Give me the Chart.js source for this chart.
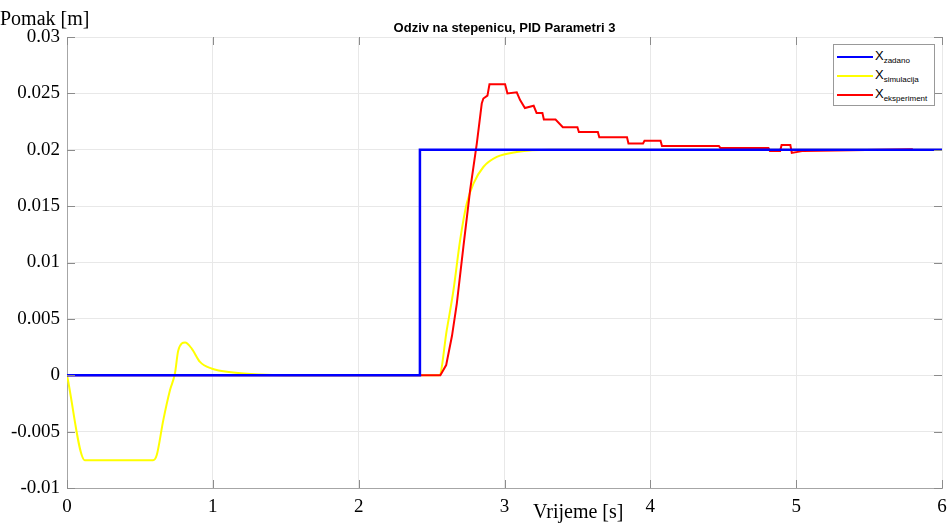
<!DOCTYPE html>
<html>
<head>
<meta charset="utf-8">
<script src="https://cdn.jsdelivr.net/npm/chart.js@4.4.0/dist/chart.umd.min.js"></script>
<style>
    body { margin: 0; background: #fff; }
    #wrap { position: relative; width: 951px; height: 523px; }
    #stepChart { position: absolute; left: 0; top: 0; }
    .lbl { position: absolute; font-family: "Liberation Serif", serif; font-size: 20px; color: #000; white-space: nowrap; }
    #title { position: absolute; left: 67px; width: 875px; top: 20px; text-align: center;
             font-family: "Liberation Sans", Arial, sans-serif; font-weight: bold; font-size: 13px; color: #000; }
    #legend { position: absolute; left: 833px; top: 44px; width: 100px; height: 60px; background: #fff;
              border: 1px solid #999; font-family: "Liberation Sans", Arial, sans-serif; font-size: 13px; }
    #legend .row { position: absolute; left: 3px; height: 14px; }
    #legend .ln { position: absolute; left: 0; top: 7px; width: 36px; height: 2px; }
    #legend .tx { position: absolute; left: 38px; top: 0; line-height: 14px; white-space: nowrap; }
    #legend sub { font-size: 8px; vertical-align: -3px; }
</style>
</head>
<body>
<div id="wrap">
    <canvas id="stepChart" width="951" height="523"></canvas>
    <div id="title">Odziv na stepenicu, PID Parametri 3</div>
    <div class="lbl" style="left:0px;top:7px;">Pomak [m]</div>
    <div class="lbl" style="left:533px;top:500px;">Vrijeme [s]</div>
    <div id="legend">
        <div class="row" style="top:4px"><div class="ln" style="background:#0000ff"></div><div class="tx">X<sub>zadano</sub></div></div>
        <div class="row" style="top:23px"><div class="ln" style="background:#ffff00"></div><div class="tx">X<sub>simulacija</sub></div></div>
        <div class="row" style="top:42px"><div class="ln" style="background:#ff0000"></div><div class="tx">X<sub>eksperiment</sub></div></div>
    </div>
</div>
<script>
// DATA

var xTicks = [0, 1, 2, 3, 4, 5, 6]
var yTicks = [-0.01, -0.005, 0, 0.005, 0.01, 0.015, 0.02, 0.025, 0.03]

// zadano (reference step)
var zadanoT = [0, 2.42, 2.42, 6]
var zadanoY = [0, 0, 0.02, 0.02]

// simulacija
var simT = [0, 0.123, 0.59, 0.615, 0.66, 0.706, 0.74, 0.763, 0.81, 0.855, 0.912, 0.99, 1.14, 1.32, 1.5,
    2.553, 2.604, 2.65, 2.696, 2.741, 2.787, 2.855, 2.947, 3.084, 3.31, 6]
var simY = [0, -0.00754, -0.00754, -0.0071, -0.004, -0.00133, 0.00015, 0.0022, 0.0029, 0.00237, 0.00118, 0.0006, 0.00024, 0.00006, 0,
    0, 0.004, 0.00754, 0.012, 0.01523, 0.017, 0.01847, 0.01936, 0.0198, 0.02, 0.02]

// eksperiment
var ekspT = [0, 2.56, 2.6, 2.64, 2.673, 2.718, 2.764, 2.81, 2.844, 2.855, 2.883, 2.897, 3.004, 3.02, 3.084, 3.107, 3.14,
    3.2, 3.22, 3.26, 3.27, 3.35, 3.4, 3.5, 3.51, 3.64, 3.65, 3.84, 3.85, 3.95, 3.96, 4.07, 4.08,
    4.47, 4.48, 4.81, 4.82, 4.89, 4.9, 4.96, 4.97, 5.05, 5.8]
var ekspY = [0, 0, 0.0009, 0.0035, 0.00636, 0.01138, 0.0164, 0.02055, 0.0241, 0.02454, 0.0248, 0.0258, 0.0258, 0.025, 0.0251, 0.0244, 0.0237,
    0.0239, 0.02326, 0.02326, 0.02268, 0.02268, 0.022, 0.022, 0.02158, 0.02158, 0.0211, 0.0211, 0.02055, 0.02055, 0.0208, 0.0208, 0.02034,
    0.02034, 0.02016, 0.02016, 0.0199, 0.0199, 0.02043, 0.02043, 0.01972, 0.0199, 0.02005]

var toPoints = function (t, y) {
    return t.map(function (v, i) { return { x: v, y: y[i] } })
}

// inner tick marks, matlab style
var innerTicks = {
    id: 'innerTicks',
    afterDraw: function (chart) {
        var ctx = chart.ctx
        var a = chart.chartArea
        var xs = chart.scales.x
        var ys = chart.scales.y
        ctx.save()
        ctx.strokeStyle = "#8c8c8c"
        ctx.lineWidth = 1
        ctx.beginPath()
        xTicks.forEach(function (v) {
            var px = Math.round(xs.getPixelForValue(v)) + 0.5
            ctx.moveTo(px, a.bottom); ctx.lineTo(px, a.bottom - 8)
            ctx.moveTo(px, a.top); ctx.lineTo(px, a.top + 8)
        })
        yTicks.forEach(function (v) {
            var py = Math.round(ys.getPixelForValue(v)) + 0.5
            ctx.moveTo(a.left, py); ctx.lineTo(a.left + 8, py)
            ctx.moveTo(a.right, py); ctx.lineTo(a.right - 8, py)
        })
        ctx.stroke()
        ctx.restore()
    }
}

// CHART

var tickFont = { family: "'Liberation Serif', serif", size: 19 }

var cnx = document.getElementById("stepChart")

var stepChart = new Chart(cnx, {
    type: 'line',
    data: {
        datasets: [
            {
                label: "X zadano",
                data: toPoints(zadanoT, zadanoY),
                borderColor: "#0000ff",
                borderWidth: 2.5,
                pointRadius: 0,
                order: 0
            },
            {
                label: "X simulacija",
                data: toPoints(simT, simY),
                borderColor: "#ffff00",
                borderWidth: 2,
                pointRadius: 0,
                cubicInterpolationMode: 'monotone',
                order: 2
            },
            {
                label: "X eksperiment",
                data: toPoints(ekspT, ekspY),
                borderColor: "#ff0000",
                borderWidth: 2,
                pointRadius: 0,
                order: 1
            }
        ]
    },
    plugins: [innerTicks],
    options: {
        responsive: false,
        animation: false,
        layout: { padding: { left: 0, right: 9, top: 37, bottom: 0 } },
        plugins: {
            legend: { display: false },
            title: { display: false },
            tooltip: { enabled: false }
        },
        scales: {
            x: {
                type: 'linear',
                min: 0,
                max: 6,
                afterBuildTicks: function (axis) {
                    axis.ticks = xTicks.map(function (v) { return { value: v } })
                },
                afterFit: function (axis) {
                    axis.height = 35
                    axis.paddingLeft = 0
                    axis.paddingRight = 0
                },
                grid: { color: "#e8e8e8", drawTicks: false },
                border: { color: "#a6a6a6", width: 1 },
                ticks: { color: "#000", font: tickFont, padding: 8, maxRotation: 0 }
            },
            y: {
                type: 'linear',
                min: -0.01,
                max: 0.03,
                afterBuildTicks: function (axis) {
                    axis.ticks = yTicks.map(function (v) { return { value: v } })
                },
                afterFit: function (axis) {
                    axis.width = 67
                    axis.paddingTop = 0
                    axis.paddingBottom = 0
                },
                grid: { color: "#e8e8e8", drawTicks: false },
                border: { color: "#a6a6a6", width: 1 },
                ticks: {
                    color: "#000",
                    font: tickFont,
                    padding: 7,
                    callback: function (v) { return String(Number(v.toFixed(3))) }
                }
            }
        }
    }
})
</script>
</body>
</html>
